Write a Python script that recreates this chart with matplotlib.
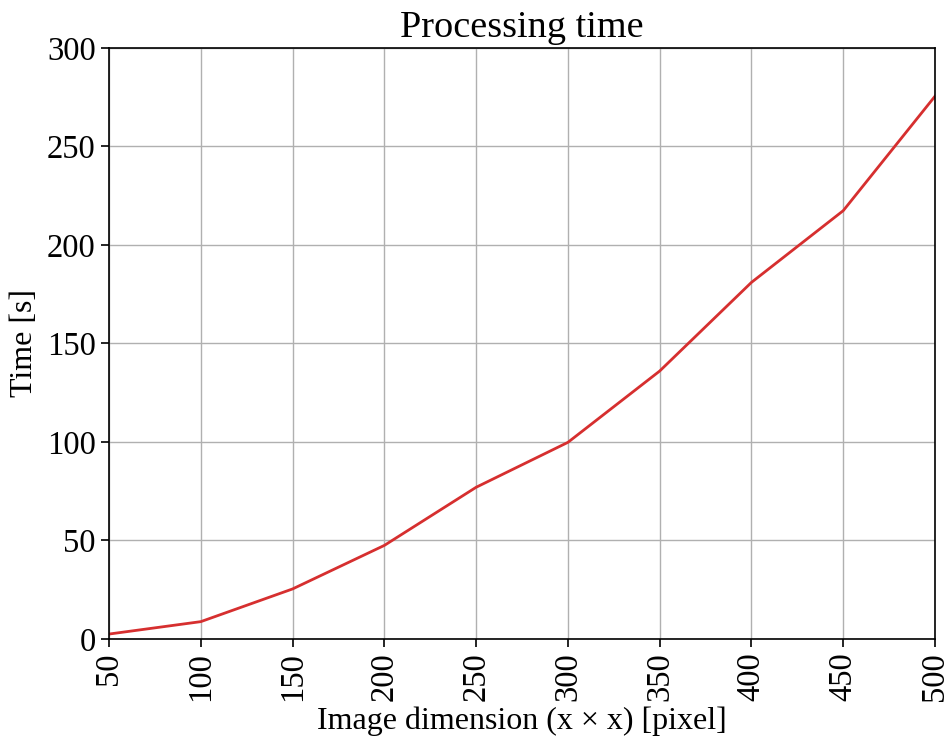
import numpy as np
import matplotlib.pyplot as plt

plt.rcParams['font.family'] = ['Liberation Serif', 'DejaVu Serif']

# image side length vs. processing time
dimension = [50, 100, 150, 200, 250, 300, 350, 400, 450, 500]
time_s = [2.5, 8.8, 25.4, 47.5, 77.0, 99.8, 136.0, 181.0, 217.4, 275.5]

fig = plt.figure(figsize=(9.44, 7.37), dpi=100)
ax = fig.add_axes([0.1155, 0.133, 0.875, 0.802])

ax.plot(dimension, time_s, color='#d62f2f', linewidth=2)

ax.set_xlim(50, 500)
ax.set_ylim(0, 300)
ax.set_xticks(np.arange(50, 501, 50))
ax.set_yticks(np.arange(0, 301, 50))
ax.grid(True, color='#b0b0b0', linewidth=1)
ax.set_axisbelow(True)

ax.tick_params(axis='both', labelsize=23.5, length=6, width=1.2)
ax.tick_params(axis='x', labelrotation=90)
for spine in ax.spines.values():
    spine.set_linewidth(1.2)

ax.set_title('Processing time', fontsize=27.5, pad=8)
ax.set_xlabel('Image dimension (x \u00d7 x) [pixel]', fontsize=23, labelpad=4)
ax.set_ylabel('Time [s]', fontsize=23, labelpad=6)

fig.savefig('out.png', dpi=100)
